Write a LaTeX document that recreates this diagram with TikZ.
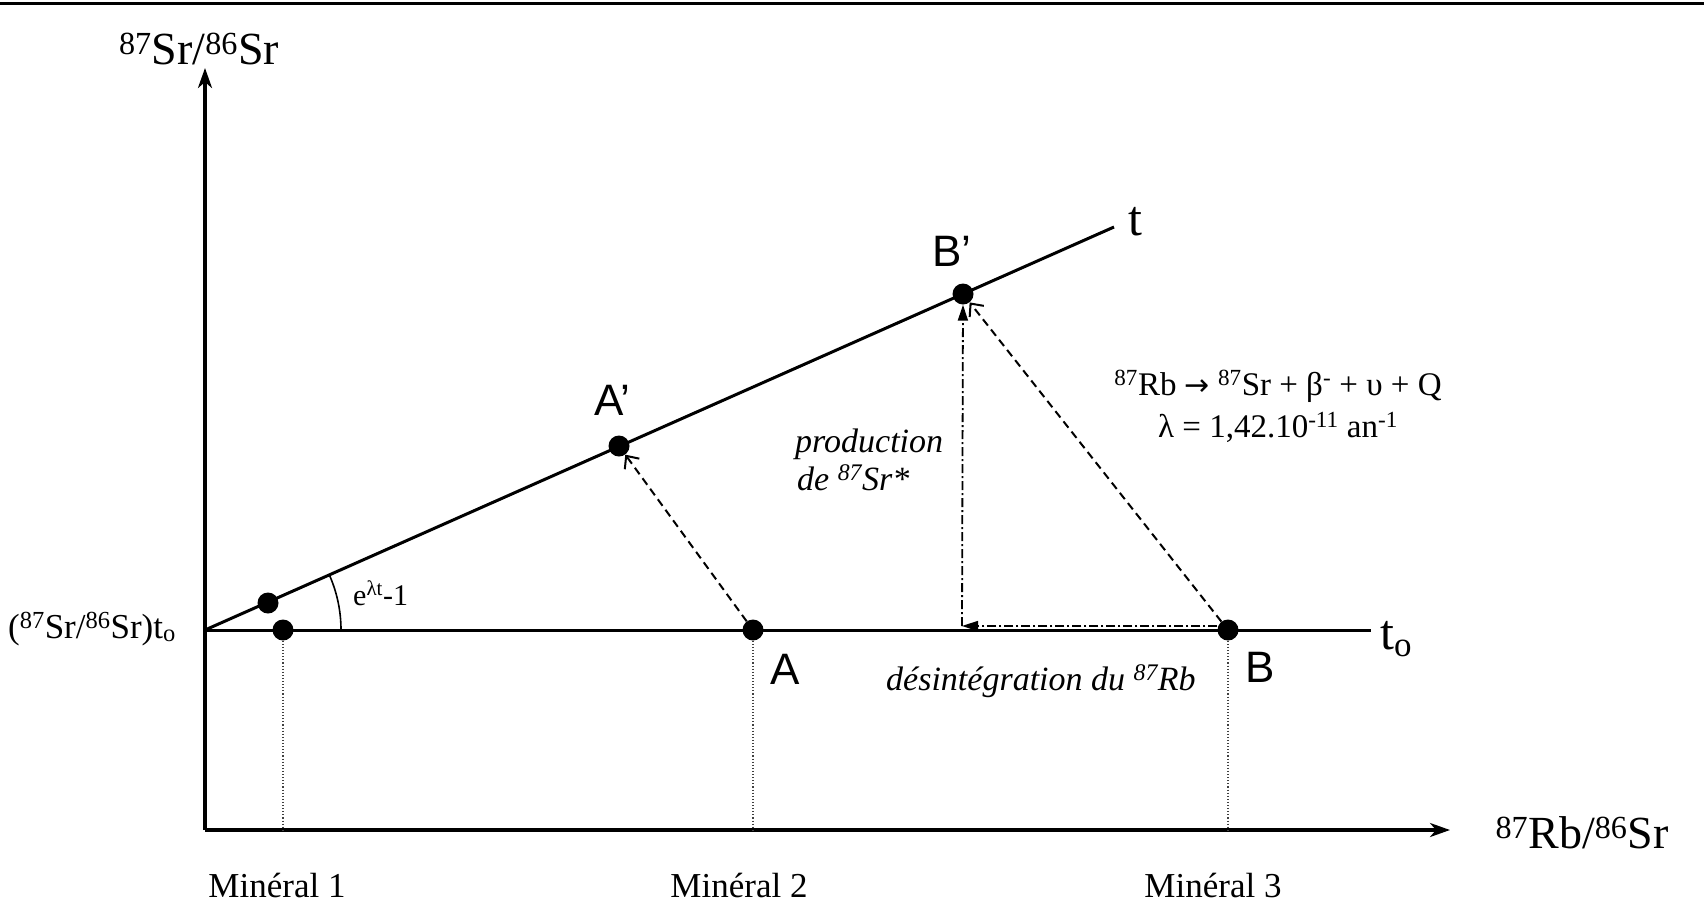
\documentclass[tikz,border=0pt]{standalone}
\usepackage{fontspec}
\setmainfont{Liberation Serif}
\newfontfamily\sansf{Liberation Sans}
\newfontfamily\arrf{DejaVu Sans}
\usetikzlibrary{arrows.meta}
\begin{document}
\begin{tikzpicture}[x=1pt,y=-1pt,
  dot/.style={circle,fill=black,inner sep=0pt,minimum size=21pt},
  axis/.style={line width=3.2pt,-{Stealth[length=20pt,width=14pt,inset=6pt]}},
  iso/.style={line width=3pt},
  dsh/.style={line width=2pt,dash pattern=on 8pt off 5pt,-{Straight Barb[length=10pt,width=18pt,line width=2pt]}},
  dd/.style={line width=1.8pt,dash pattern=on 9pt off 3pt on 2pt off 3pt,-{Triangle[length=16pt,width=10pt]}},
  proj/.style={line width=1.1pt,dotted,black!75},
  lbl/.style={inner sep=0pt,anchor=base},
  lblw/.style={inner sep=0pt,anchor=base west},
  ptl/.style={lblw,font=\sansf\fontsize{44}{48}\selectfont},
  axl/.style={lbl,font=\fontsize{46}{50}\selectfont},
  itl/.style={lblw,font=\itshape\fontsize{34}{38}\selectfont},
  minl/.style={lbl,font=\fontsize{35}{38}\selectfont}
]
\useasboundingbox (0,0) rectangle (1704,903);
% top rule
\draw[line width=3pt] (0,3) -- (1704,3);

% key coordinates
\coordinate (O) at (205,630);
\coordinate (X0) at (205,830);
\coordinate (Yend) at (205,68);
\coordinate (Xend) at (1450,830);
\coordinate (T) at (1114,227);
\coordinate (To) at (1371,630);
\coordinate (C) at (962,626);

% points
\node[dot] (m1a) at (283,630) {};
\node[dot] (m1b) at (268,603) {};
\node[dot] (A) at (753,630) {};
\node[dot] (Ap) at (619,446) {};
\node[dot] (B) at (1228,630) {};
\node[dot] (Bp) at (963,294) {};

% axes
\draw[axis] (X0) -- (Yend);
\draw[axis] (X0) -- (Xend);

% isochrons
\draw[iso] (O) -- (To);
\draw[iso] (O) -- (T);

% angle arc
\draw[line width=1.6pt] (341,630) arc[start angle=0,end angle=24,radius=136pt];

% projections
\draw[proj] (m1a) -- (m1a |- X0);
\draw[proj] (A) -- (A |- X0);
\draw[proj] (B) -- (B |- X0);

% evolution arrows
\draw[dsh] (A) -- (Ap);
\draw[dsh] (B) -- (Bp);
\draw[dd] ([yshift=4pt]B.west) -- (C);
\draw[dd] (C) -- (Bp);

% labels
\node[axl] (ylab) at (199,64) {\textsuperscript{87}Sr/\textsuperscript{86}Sr};
\node[axl] (xlab) at (1582,848) {\textsuperscript{87}Rb/\textsuperscript{86}Sr};
\node[lbl,font=\fontsize{35}{38}\selectfont] (olab) at (92,638) {(\textsuperscript{87}Sr/\textsuperscript{86}Sr)t\textsubscript{o}};
\node[lblw,font=\fontsize{30}{34}\selectfont] (elab) at (353,605) {e\textsuperscript{λt}-1};
\node[lblw,font=\fontsize{50}{54}\selectfont] (tlab) at (1128,235) {t};
\node[lblw,font=\fontsize{50}{54}\selectfont] (tolab) at (1380,649) {t\textsubscript{o}};

\node[ptl] (Aplab) at (594,415) {A’};
\node[ptl] (Bplab) at (932,266) {B’};
\node[ptl] (Alab) at (770,684) {A};
\node[ptl] (Blab) at (1245,682) {B};

\node[itl] (prod1) at (795,452) {production};
\node[itl] (prod2) at (797,490) {de \textsuperscript{87}Sr*};
\node[itl] (dis) at (886,690) {désintégration du \textsuperscript{87}Rb};

\node[lbl,font=\fontsize{33}{36}\selectfont] (eq1) at (1278,395) {\textsuperscript{87}Rb {\arrf\fontsize{30}{34}\selectfont →} \textsuperscript{87}Sr + β\textsuperscript{-} + υ + Q};
\node[lbl,font=\fontsize{33}{36}\selectfont] (eq2) at (1278,437) {λ = 1,42.10\textsuperscript{-11} an\textsuperscript{-1}};

\node[minl] (min1) at (277,897) {Minéral 1};
\node[minl] (min2) at (739,897) {Minéral 2};
\node[minl] (min3) at (1213,897) {Minéral 3};
\end{tikzpicture}
\end{document}
